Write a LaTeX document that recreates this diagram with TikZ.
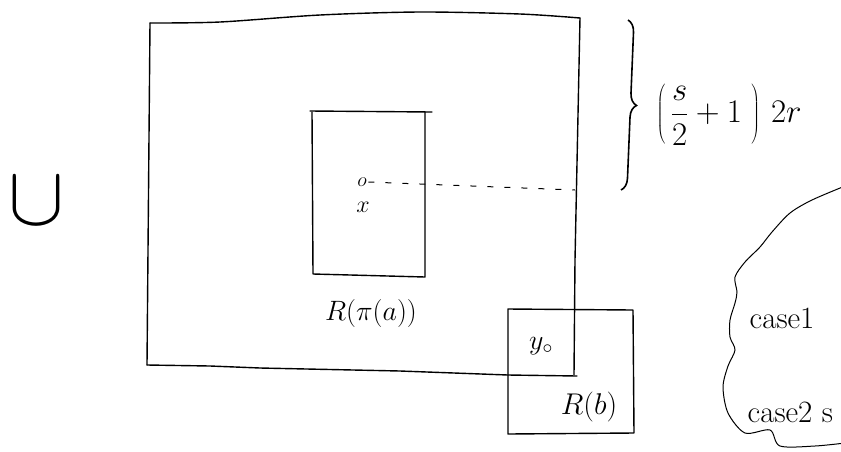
\RequirePackage{fix-cm}
\documentclass[tikz,border=0pt]{standalone}
\usetikzlibrary{decorations.pathreplacing}

\begin{document}
\begin{tikzpicture}[x=1pt, y=-1pt, line width=1.4pt,
    hand/.style={line cap=round, line join=round},
    lbl/.style={inner sep=0pt, font=\fontsize{28}{32}\selectfont}]
  \useasboundingbox (0,0) rectangle (841,451);
  \clip (0,0) rectangle (841,451);

  % Union sign on the left
  \node[inner sep=0pt, font=\fontsize{84}{84}\selectfont] (union) at (37,201) {$\cup$};

  % Big square
  \draw[hand] plot[smooth] coordinates {(150,23) (220,22) (320,15) (420,12) (520,14) (580,18)};
  \draw[hand] (150,23) -- (147,365);
  \draw[hand] (580,18) -- (575,260) -- (574,375);
  \draw[hand] (147,365) -- (210,366) -- (260,368) -- (400,371) -- (508,375) -- (577,376);

  % Inner box R(pi(a))
  \draw[hand] (310,111) -- (432,112);
  \draw[hand] (312,112) -- (313,274) -- (425,277) -- (425,112);
  \node[lbl] (Rpia) at (371,313) {$R(\pi(a))$};

  % Centre point and its label
  \node[inner sep=1pt, font=\fontsize{20}{22}\selectfont] (o) at (362,182) {$o$};
  \node[inner sep=0pt, font=\fontsize{24}{26}\selectfont] (x) at (363,207) {$x$};
  \coordinate (edge) at (575,190);
  \draw[line width=1pt, dash pattern=on 6pt off 11pt] (o.east) -- (edge);

  % Small box R(b)
  \draw[hand] (508,309) -- (633,310) -- (634,433) -- (508,434) -- cycle;
  \node[lbl] (y) at (541,346) {$y_{\circ}$};
  \node[lbl, font=\fontsize{30}{34}\selectfont] (Rb) at (589,407) {$R(b)$};

  % Brace and side length
  \draw[line width=1.6pt, decorate, decoration={brace, amplitude=12pt}] (628,20) -- (621,190);
  \node[lbl, anchor=west, font=\fontsize{33}{36}\selectfont] (side) at (656,115) {$\left(\,{\displaystyle\frac{s}{2}}+1\;\right)\,2r$};

  % Cloud with the cases
  \draw[line width=1pt] plot[smooth] coordinates {(845,186) (812,200) (790,213) (772,232) (760,247) (745,262) (735,277) (737,292) (735,303) (730,320) (730,337) (735,350) (728,366) (723,387) (728,413) (745,433) (770,430) (780,446) (815,446) (845,443)};
  \node[lbl, anchor=west, font=\fontsize{31}{34}\selectfont] (case1) at (749,318) {case1};
  \node[lbl, anchor=west, font=\fontsize{31}{34}\selectfont] (case2) at (747,412) {case2 s};
\end{tikzpicture}
\end{document}
